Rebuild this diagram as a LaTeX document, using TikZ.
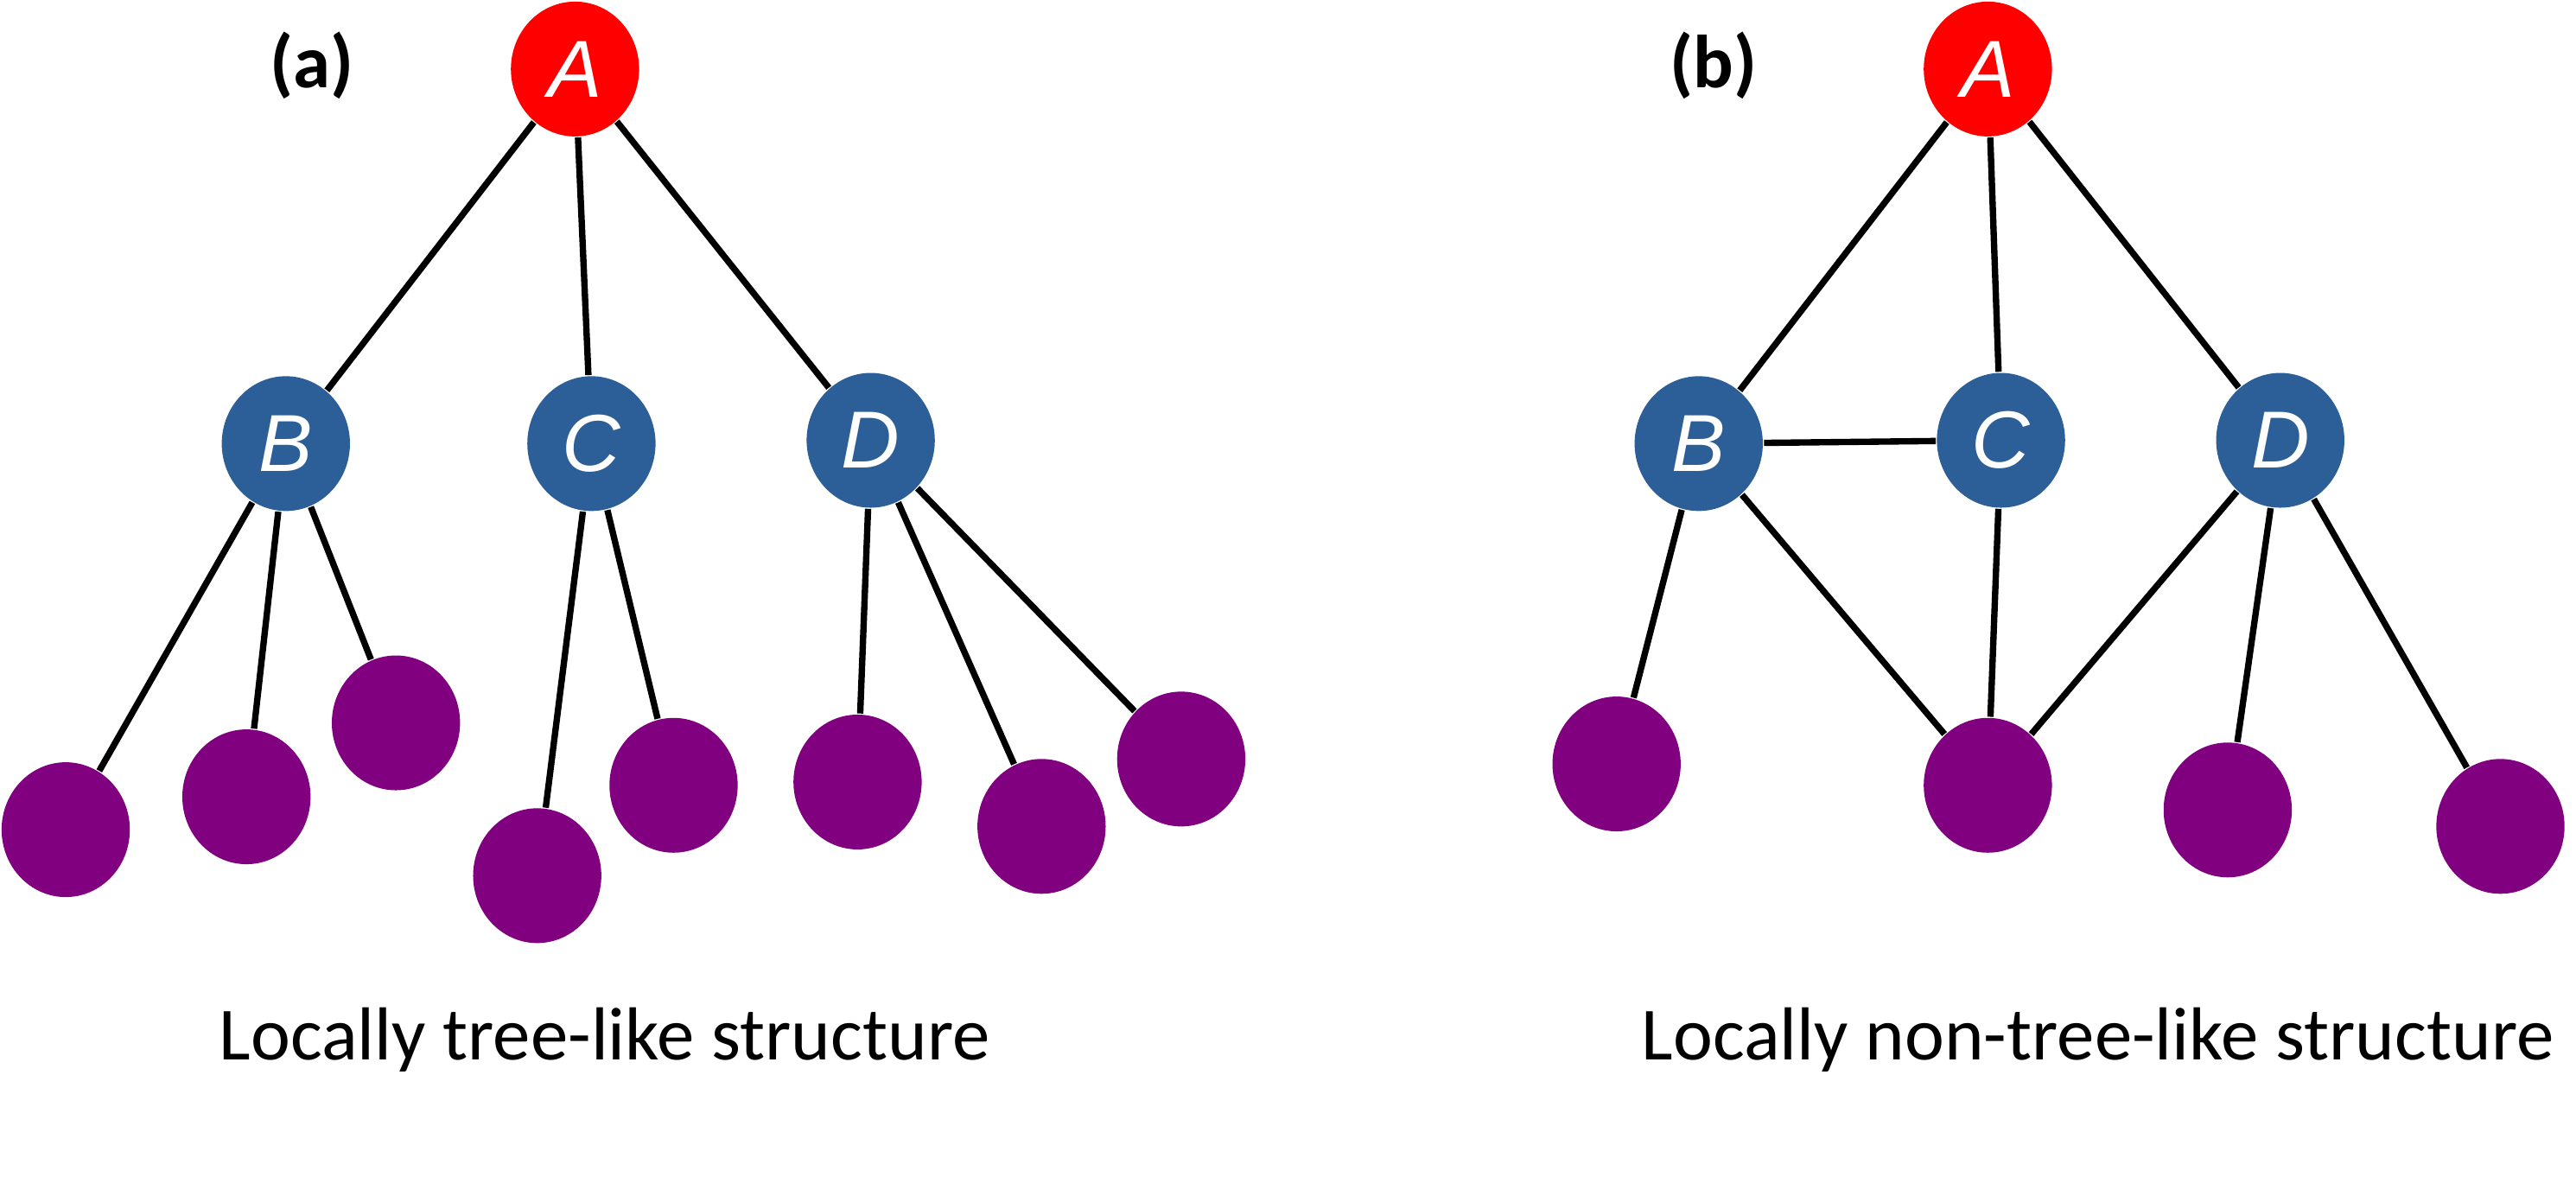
\documentclass[tikz,border=0pt]{standalone}
\usepackage{fontspec}
\setmainfont{Carlito}
\newfontfamily\lettfont{Liberation Sans}
\usetikzlibrary{shapes.geometric}
\definecolor{nred}{HTML}{FF0000}
\definecolor{nblue}{HTML}{2C5F97}
\definecolor{npurp}{HTML}{800080}
\begin{document}
\begin{tikzpicture}[x=0.01cm,y=-0.01cm,
  nd/.style={ellipse,minimum width=0.78cm,minimum height=0.82cm,inner sep=0pt,text=white,font=\lettfont\itshape\fontsize{14}{14}\selectfont},
  rootn/.style={nd,fill=nred},
  midn/.style={nd,fill=nblue},
  leafn/.style={nd,fill=npurp},
  edge/.style={line width=1.1pt,black}]
\useasboundingbox (0,0) rectangle (1568,720);
% (a)
\node[rootn] (aA) at (350,42) {A};
\node[midn] (aB) at (174,270) {B};
\node[midn] (aC) at (360,270) {C};
\node[midn] (aD) at (530,268) {D};
\node[leafn] (a1) at (40,505) {};
\node[leafn] (a2) at (150,485) {};
\node[leafn] (a3) at (241,440) {};
\node[leafn] (a4) at (327,533) {};
\node[leafn] (a5) at (410,478) {};
\node[leafn] (a6) at (522,476) {};
\node[leafn] (a7) at (634,503) {};
\node[leafn] (a8) at (719,462) {};
\draw[edge] (aA)--(aB) (aA)--(aC) (aA)--(aD)
  (aB)--(a1) (aB)--(a2) (aB)--(a3) (aC)--(a4) (aC)--(a5)
  (aD)--(a6) (aD)--(a7) (aD)--(a8);
\node[font=\bfseries\fontsize{13}{13}\selectfont] (la) at (190,40) {(a)};
\node[font=\fontsize{13}{13}\selectfont] (ta) at (368,633) {Locally tree-like structure};
% (b)
\node[rootn] (bA) at (1210,42) {A};
\node[midn] (bB) at (1034,270) {B};
\node[midn] (bC) at (1218,268) {C};
\node[midn] (bD) at (1388,268) {D};
\node[leafn] (b1) at (984,465) {};
\node[leafn] (b2) at (1210,478) {};
\node[leafn] (b3) at (1356,493) {};
\node[leafn] (b4) at (1522,503) {};
\draw[edge] (bA)--(bB) (bA)--(bC) (bA)--(bD) (bB)--(bC)
  (bB)--(b1) (bB)--(b2) (bC)--(b2) (bD)--(b2) (bD)--(b3) (bD)--(b4);
\node[font=\bfseries\fontsize{13}{13}\selectfont] (lb) at (1043,40) {(b)};
\node[font=\fontsize{13}{13}\selectfont] (tb) at (1277,633) {Locally non-tree-like structure};
\end{tikzpicture}
\end{document}
